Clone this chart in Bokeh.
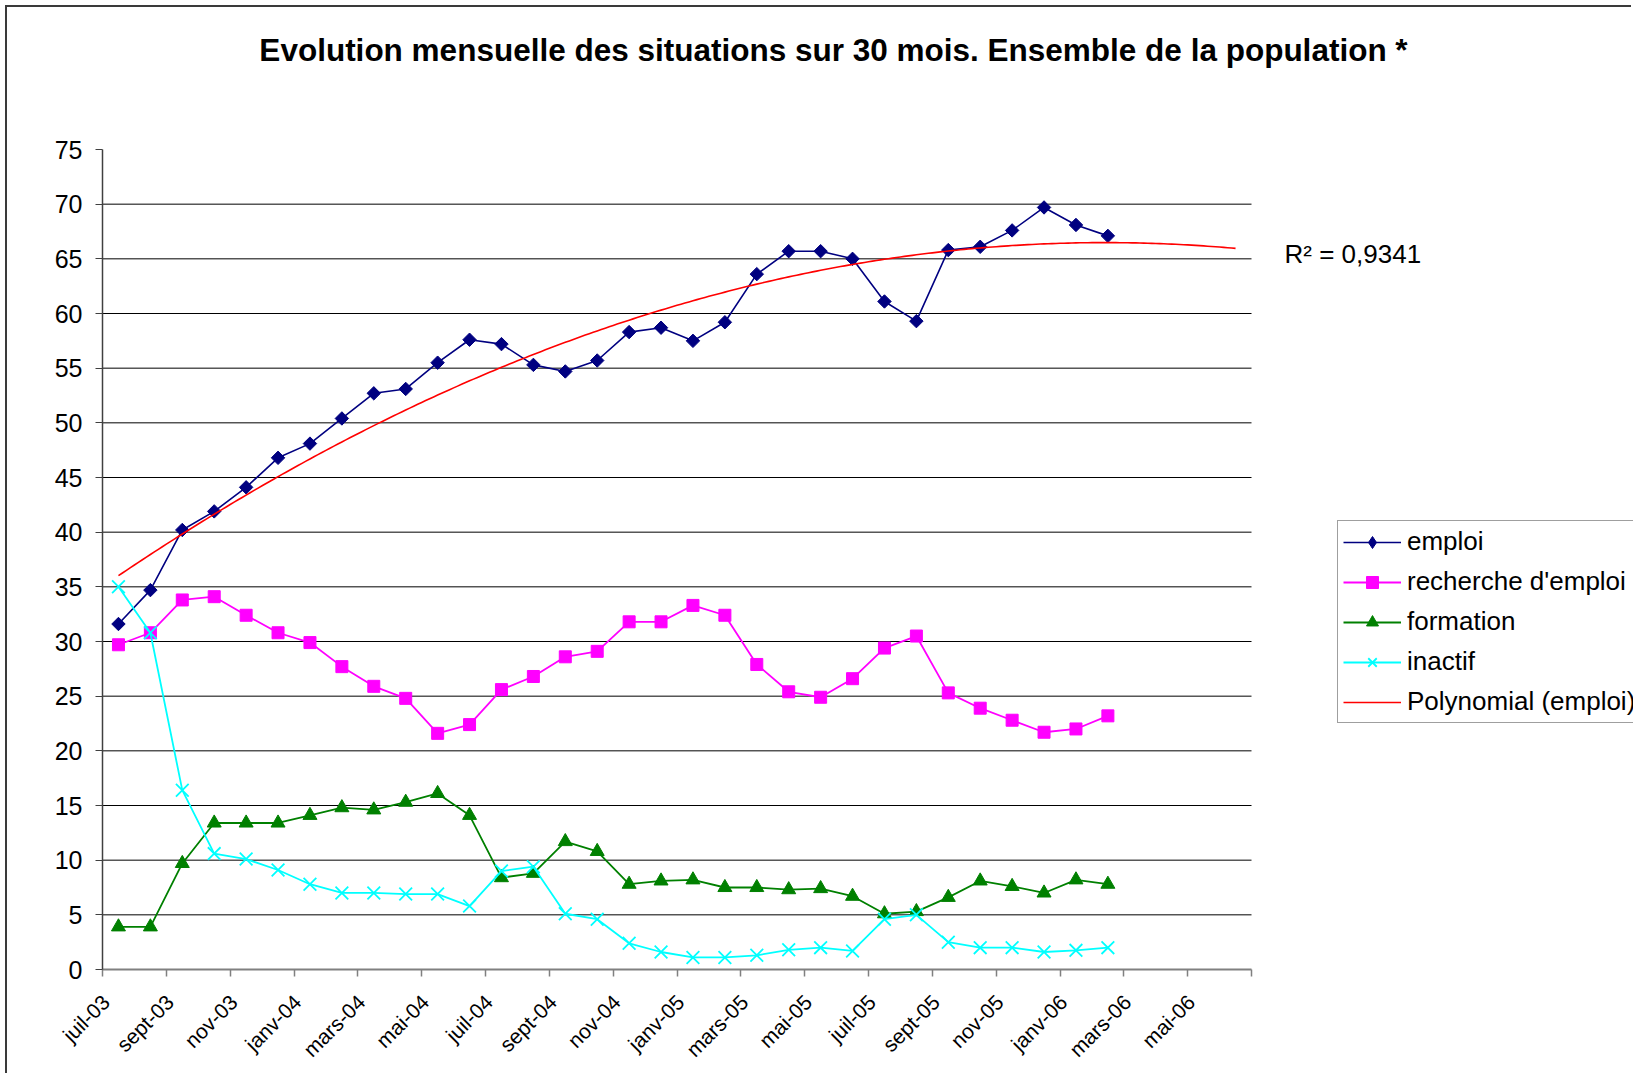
import math
import numpy as np
from bokeh.plotting import figure
from bokeh.models import Range1d, FixedTicker, Label, Legend, LegendItem, LinearAxis
from bokeh.embed import file_html
from bokeh.resources import INLINE

# ---------------- data ----------------
tick_labels = ["juil-03", "sept-03", "nov-03", "janv-04", "mars-04", "mai-04",
               "juil-04", "sept-04", "nov-04", "janv-05", "mars-05", "mai-05",
               "juil-05", "sept-05", "nov-05", "janv-06", "mars-06", "mai-06"]
n_months = 36
y_max = 75
y_step = 5

emploi = [31.6, 34.7, 40.2, 41.9, 44.1, 46.8, 48.1, 50.4, 52.7, 53.1, 55.5, 57.6,
          57.2, 55.3, 54.7, 55.7, 58.3, 58.7, 57.5, 59.2, 63.6, 65.7, 65.7, 65.0,
          61.1, 59.3, 65.8, 66.1, 67.6, 69.7, 68.1, 67.1]
recherche = [29.7, 30.8, 33.8, 34.1, 32.4, 30.8, 29.9, 27.7, 25.9, 24.8, 21.6, 22.4,
             25.6, 26.8, 28.6, 29.1, 31.8, 31.8, 33.3, 32.4, 27.9, 25.4, 24.9, 26.6,
             29.4, 30.5, 25.3, 23.9, 22.8, 21.7, 22.0, 23.2]
formation = [3.9, 3.9, 9.7, 13.4, 13.4, 13.4, 14.1, 14.8, 14.6, 15.3, 16.1, 14.1,
             8.4, 8.8, 11.7, 10.8, 7.8, 8.1, 8.2, 7.5, 7.5, 7.3, 7.4, 6.7,
             5.1, 5.3, 6.6, 8.1, 7.6, 7.0, 8.2, 7.8]
inactif = [35.0, 30.8, 16.4, 10.6, 10.1, 9.1, 7.8, 7.0, 7.0, 6.9, 6.9, 5.8,
           9.0, 9.4, 5.1, 4.6, 2.4, 1.6, 1.1, 1.1, 1.3, 1.8, 2.0, 1.7,
           4.6, 5.0, 2.5, 2.0, 2.0, 1.6, 1.75, 2.0]

title_text = "Evolution mensuelle des situations sur 30 mois. Ensemble de la population *"
r2_text = "R\u00b2 = 0,9341"

# ---------------- trend (polynomial order 2 fitted on emploi) ----------------
idx = np.arange(1, len(emploi) + 1)
coef = np.polyfit(idx, emploi, 2)
t = np.linspace(1, n_months, 281)
trend = np.polyval(coef, t)

x = idx - 0.5
xt = t - 0.5

FONT = "Liberation Sans"

# ---------------- geometry ----------------
W, H = 1626, 1068
LEFT, BOTTOM = 95, 106
DATA_W = 1149   # pixels covered by the 36 months
DATA_H = 820    # pixels covered by 0..75
frame_w = W - LEFT
frame_h = H - BOTTOM
x_end = n_months * frame_w / DATA_W
y_end = y_max * frame_h / DATA_H
label_shift = 0.11   # months: tick labels sit slightly right of their tick

p = figure(width=W, height=H, output_backend="svg", toolbar_location=None,
           x_range=Range1d(0, x_end), y_range=Range1d(0, y_end),
           min_border_left=LEFT, min_border_right=0, min_border_top=0,
           min_border_bottom=BOTTOM,
           styles={"margin-left": "5px", "margin-top": "5px",
                   "border-left": "2px solid #3a3a3a", "border-top": "2px solid #3a3a3a"})
p.outline_line_color = None
p.background_fill_color = "white"
p.border_fill_color = "white"
p.xgrid.visible = False
p.ygrid.visible = False

# horizontal gridlines limited to the plot area
grid_y = list(range(y_step, y_max, y_step))
p.segment(x0=[0] * len(grid_y), x1=[n_months] * len(grid_y), y0=grid_y, y1=grid_y,
          line_color="black", line_width=1)

# x axis: line + tick marks
p.xaxis.bounds = (0, n_months)
p.xaxis.ticker = FixedTicker(ticks=list(range(0, n_months + 1, 2)))
p.xaxis.major_label_overrides = {v: "" for v in range(0, n_months + 1, 2)}
p.xaxis.major_label_text_font_size = "1px"
p.xaxis.major_label_standoff = 0
p.xaxis.minor_tick_line_color = None
p.xaxis.major_tick_in = 0
p.xaxis.major_tick_out = 7
p.xaxis.axis_line_color = "#808080"
p.xaxis.axis_line_width = 2
p.xaxis.major_tick_line_color = "#808080"
p.xaxis.major_tick_line_width = 1.5

# x axis: month labels
p.extra_x_ranges = {"labels": Range1d(-label_shift, x_end - label_shift)}
lab_axis = LinearAxis(x_range_name="labels",
                      ticker=FixedTicker(ticks=list(range(0, 2 * len(tick_labels), 2))))
lab_axis.major_label_overrides = {2 * i: lab for i, lab in enumerate(tick_labels)}
lab_axis.major_label_orientation = math.pi / 4
lab_axis.axis_line_color = None
lab_axis.major_tick_line_color = None
lab_axis.minor_tick_line_color = None
lab_axis.major_tick_out = 0
lab_axis.major_tick_in = 0
lab_axis.major_label_text_font = FONT
lab_axis.major_label_text_font_size = "21px"
lab_axis.major_label_text_color = "black"
lab_axis.major_label_standoff = 22
p.add_layout(lab_axis, "below")

# y axis
p.yaxis.bounds = (0, y_max)
p.yaxis.ticker = FixedTicker(ticks=list(range(0, y_max + 1, y_step)))
p.yaxis.minor_tick_line_color = None
p.yaxis.major_tick_in = 0
p.yaxis.major_tick_out = 7
p.yaxis.axis_line_color = "#404040"
p.yaxis.axis_line_width = 1.5
p.yaxis.major_tick_line_color = "#404040"
p.yaxis.major_label_text_font = FONT
p.yaxis.major_label_text_font_size = "25px"
p.yaxis.major_label_text_color = "black"
p.yaxis.major_label_standoff = 13

# series
NAVY, MAGENTA, GREEN, CYAN, RED = "#000080", "#FF00FF", "#008000", "#00FFFF", "#FF0000"
l_e = p.line(x, emploi, line_color=NAVY, line_width=1.6)
# diamond shown in the legend (hidden under the first rotated-square marker)
k_e = p.scatter(x[:1], emploi[:1], marker="diamond", size=12,
                fill_color=NAVY, line_color=NAVY)
m_e = p.scatter(x, emploi, marker="square", angle=math.pi / 4, size=9.5,
                fill_color=NAVY, line_color=NAVY)
l_r = p.line(x, recherche, line_color=MAGENTA, line_width=1.8)
m_r = p.scatter(x, recherche, marker="square", size=12,
                fill_color=MAGENTA, line_color=MAGENTA)
l_f = p.line(x, formation, line_color=GREEN, line_width=1.8)
m_f = p.scatter(x, formation, marker="triangle", size=14,
                fill_color=GREEN, line_color=GREEN)
l_i = p.line(x, inactif, line_color=CYAN, line_width=1.8)
m_i = p.scatter(x, inactif, marker="x", size=18, line_color=CYAN, line_width=1.8)
l_t = p.line(xt, trend, line_color=RED, line_width=1.6)

legend = Legend(items=[
    LegendItem(label="emploi", renderers=[l_e, k_e]),
    LegendItem(label="recherche d'emploi", renderers=[l_r, m_r]),
    LegendItem(label="formation", renderers=[l_f, m_f]),
    LegendItem(label="inactif", renderers=[l_i, m_i]),
    LegendItem(label="Polynomial (emploi)", renderers=[l_t]),
], location=(1235, 246))
legend.label_text_font = FONT
legend.label_text_font_size = "26px"
legend.label_text_color = "black"
legend.glyph_width = 58
legend.glyph_height = 30
legend.label_height = 30
legend.spacing = 9
legend.padding = 5
legend.margin = 0
legend.label_standoff = 6
legend.border_line_color = "#404040"
legend.border_line_width = 1.2
legend.background_fill_color = "white"
legend.background_fill_alpha = 1.0
p.add_layout(legend, "center")

title = Label(x=731, y=920, x_units="screen", y_units="screen", text=title_text,
              text_font=FONT, text_font_size="31.5px", text_font_style="bold",
              text_align="center", text_baseline="alphabetic", text_color="black")
p.add_layout(title)

r2 = Label(x=1182, y=716, x_units="screen", y_units="screen", text=r2_text,
           text_font=FONT, text_font_size="26px", text_align="left",
           text_baseline="alphabetic", text_color="black")
p.add_layout(r2)

open("out.html", "w").write(file_html(p, INLINE))
